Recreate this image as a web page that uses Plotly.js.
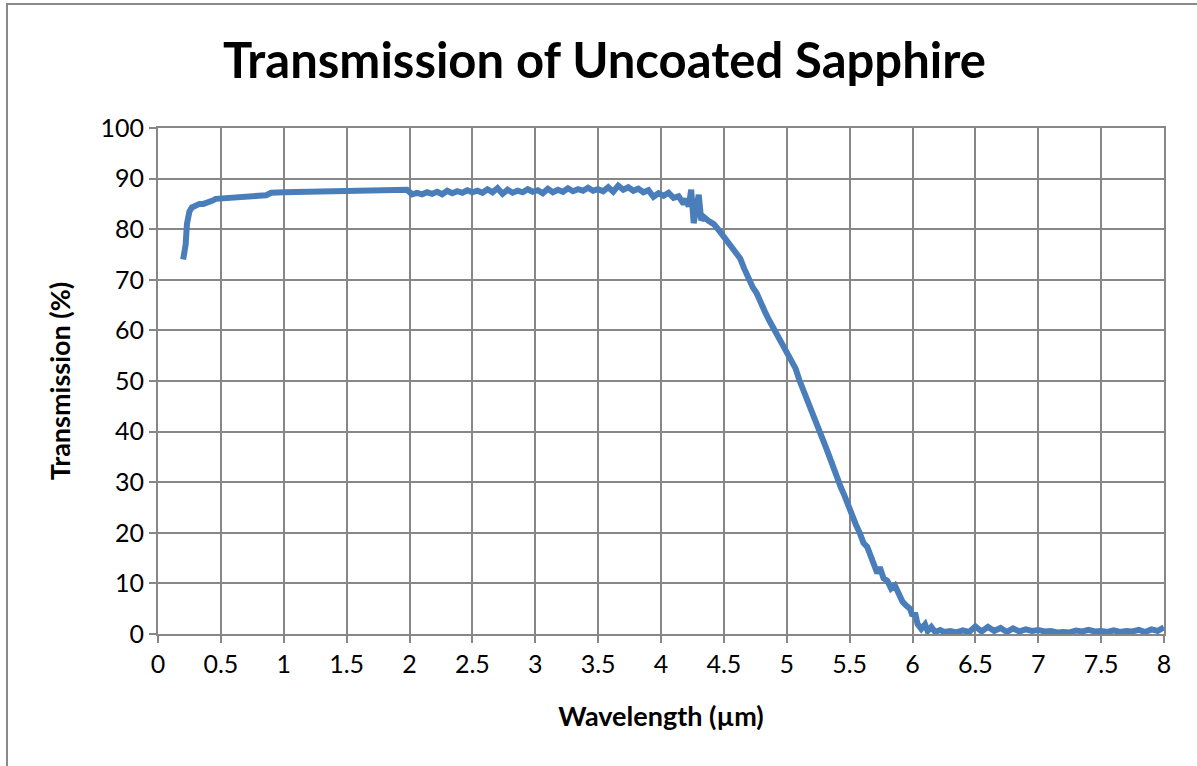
<!DOCTYPE html>
<html>
<head>
<meta charset="utf-8">
<script src="https://cdn.plot.ly/plotly-3.0.1.min.js"></script>
<style>
  html, body { margin: 0; padding: 0; background: #ffffff; overflow: hidden; }
  #wrap { position: relative; width: 1197px; height: 766px; }
  #chart { position: absolute; left: 0; top: 0; width: 1197px; height: 766px; }
  #frame { position: absolute; left: 6px; top: 3px; width: 1200px; height: 800px;
           border-left: 2px solid #8a8a8a; border-top: 2px solid #8a8a8a; pointer-events: none; }
</style>
</head>
<body>
<div id="wrap">
  <div id="chart"></div>
  <div id="frame"></div>
</div>
<script>
// Measured transmission curve of an uncoated sapphire window
const wavelength = [
  0.20, 0.21, 0.22, 0.23, 0.24, 0.25, 0.27, 0.30, 0.33, 0.36, 0.40, 0.43, 0.46, 0.50, 0.55, 0.60,
  0.70, 0.80, 0.86, 0.88, 0.90, 1.00, 1.20, 1.50, 1.80, 1.98,
  2.02, 2.06, 2.10, 2.14, 2.18, 2.22, 2.26, 2.30, 2.34, 2.38, 2.42, 2.46, 2.50, 2.54, 2.58, 2.62,
  2.66, 2.70, 2.74, 2.78, 2.82, 2.86, 2.90, 2.94, 2.98, 3.02, 3.06, 3.10, 3.14, 3.18, 3.22, 3.26,
  3.30, 3.34, 3.38, 3.42, 3.46, 3.50, 3.54, 3.58, 3.62, 3.66, 3.70, 3.74, 3.78, 3.82, 3.86, 3.90,
  3.94, 3.98, 4.02, 4.06, 4.10, 4.14, 4.18, 4.20, 4.22, 4.24, 4.26, 4.28, 4.30, 4.32, 4.34, 4.38,
  4.42, 4.46, 4.50, 4.53, 4.56, 4.60, 4.63, 4.66, 4.70, 4.73, 4.76, 4.80, 4.83, 4.86, 4.89, 4.92,
  4.95, 4.98, 5.01, 5.04, 5.07, 5.10, 5.13, 5.16, 5.19, 5.22, 5.25, 5.28, 5.31, 5.34, 5.37, 5.40,
  5.43, 5.46, 5.49, 5.52, 5.55, 5.58, 5.61, 5.64, 5.67, 5.70, 5.72, 5.74, 5.77, 5.80, 5.83, 5.86,
  5.89, 5.92, 5.95, 5.98, 6.00, 6.02, 6.04, 6.07, 6.10, 6.12, 6.15, 6.18, 6.22,
  6.25, 6.30, 6.35, 6.40, 6.45, 6.50, 6.55, 6.60, 6.65, 6.70, 6.75, 6.80, 6.85, 6.90, 6.95, 7.00,
  7.05, 7.10, 7.15, 7.20, 7.25, 7.30, 7.35, 7.40, 7.45, 7.50, 7.55, 7.60, 7.65, 7.70, 7.75, 7.80,
  7.85, 7.90, 7.95, 8.00
];
const transmission = [
  74.0, 75.5, 77.0, 81.0, 82.5, 83.5, 84.3, 84.8, 85.0, 85.0, 85.2, 85.6, 86.0, 86.1, 86.2, 86.3,
  86.4, 86.6, 86.7, 87.1, 87.2, 87.3, 87.4, 87.5, 87.6, 87.8,
  86.9, 87.2, 86.9, 87.3, 87.0, 87.4, 86.9, 87.6, 87.1, 87.5, 87.2, 87.7, 87.3, 87.6, 87.2, 87.9,
  87.3, 88.1, 87.0, 87.8, 87.2, 87.6, 87.3, 87.9, 87.4, 87.7, 87.1, 88.0, 87.3, 87.8, 87.4, 88.1,
  87.5, 87.9, 87.6, 88.2, 87.6, 87.9, 87.5, 88.3, 87.4, 88.6, 87.8, 88.3, 87.6, 88.0, 87.3, 87.7,
  86.4, 87.1, 86.6, 87.2, 86.2, 86.5, 85.0, 86.0, 84.5, 87.8, 81.2, 84.0, 86.8, 81.8, 82.4, 81.6,
  81.0, 79.8, 78.5, 77.6, 76.6, 75.2, 74.2, 72.3, 70.0, 68.5, 67.4, 65.5, 63.5, 62.0, 60.6, 59.2,
  58.0, 56.6, 55.4, 53.8, 52.5, 50.2, 48.4, 46.2, 44.8, 43.0, 40.8, 39.3, 37.0, 35.0, 32.7, 31.0,
  29.0, 27.3, 25.2, 23.6, 21.6, 20.0, 18.0, 17.2, 15.4, 13.5, 12.0, 13.2, 11.0, 10.5, 9.0, 9.6,
  7.6, 6.4, 5.6, 5.0, 3.6, 4.2, 2.0, 1.0, 1.9, 0.6, 1.4, 0.4, 0.8,
  0.4, 0.6, 0.3, 0.7, 0.4, 1.5, 0.5, 1.4, 0.6, 1.2, 0.4, 1.1, 0.5, 0.9, 0.6, 0.8,
  0.5, 0.6, 0.3, 0.4, 0.3, 0.7, 0.5, 0.8, 0.5, 0.6, 0.4, 0.7, 0.4, 0.6, 0.5, 0.8,
  0.4, 0.9, 0.6, 1.3
];

const xTicks = [0, 0.5, 1, 1.5, 2, 2.5, 3, 3.5, 4, 4.5, 5, 5.5, 6, 6.5, 7, 7.5, 8];
const yTicks = [0, 10, 20, 30, 40, 50, 60, 70, 80, 90, 100];

const gridGray = '#878787';
const family = 'Lato, "Open Sans", sans-serif';
const tickFont = { family: family, size: 25, color: '#000000' };
const axisTitleFont = { family: family, size: 27, weight: 700, color: '#000000' };

const trace = {
  x: wavelength,
  y: transmission,
  type: 'scatter',
  mode: 'lines',
  line: { color: '#4A7EBB', width: 6 },
  hoverinfo: 'x+y'
};

const axisCommon = {
  showgrid: true,
  gridcolor: gridGray,
  gridwidth: 2,
  showline: true,
  linecolor: gridGray,
  linewidth: 2,
  mirror: true,
  ticks: 'outside',
  ticklen: 7,
  tickwidth: 2,
  tickcolor: gridGray,
  zeroline: false,
  tickfont: tickFont,
  fixedrange: true
};

const layout = {
  width: 1197,
  height: 766,
  margin: { l: 158, r: 33, t: 128, b: 132 },
  paper_bgcolor: '#ffffff',
  plot_bgcolor: '#ffffff',
  showlegend: false,
  title: {
    text: 'Transmission of Uncoated Sapphire',
    font: { family: family, size: 49, weight: 700, color: '#000000' },
    xref: 'container', x: 0.505, xanchor: 'center',
    yref: 'container', y: 0.921, yanchor: 'middle'
  },
  xaxis: Object.assign({}, axisCommon, {
    range: [0, 8],
    tickmode: 'array',
    tickvals: xTicks,
    ticktext: xTicks.map(String),
    title: { text: 'Wavelength (µm)', font: axisTitleFont, standoff: 30 }
  }),
  yaxis: Object.assign({}, axisCommon, {
    range: [0, 100],
    tickmode: 'array',
    tickvals: yTicks,
    ticktext: yTicks.map(String),
    title: { text: 'Transmission (%)', font: axisTitleFont, standoff: 22 }
  })
};

Plotly.newPlot('chart', [trace], layout, { displayModeBar: false, staticPlot: true });
</script>
</body>
</html>
